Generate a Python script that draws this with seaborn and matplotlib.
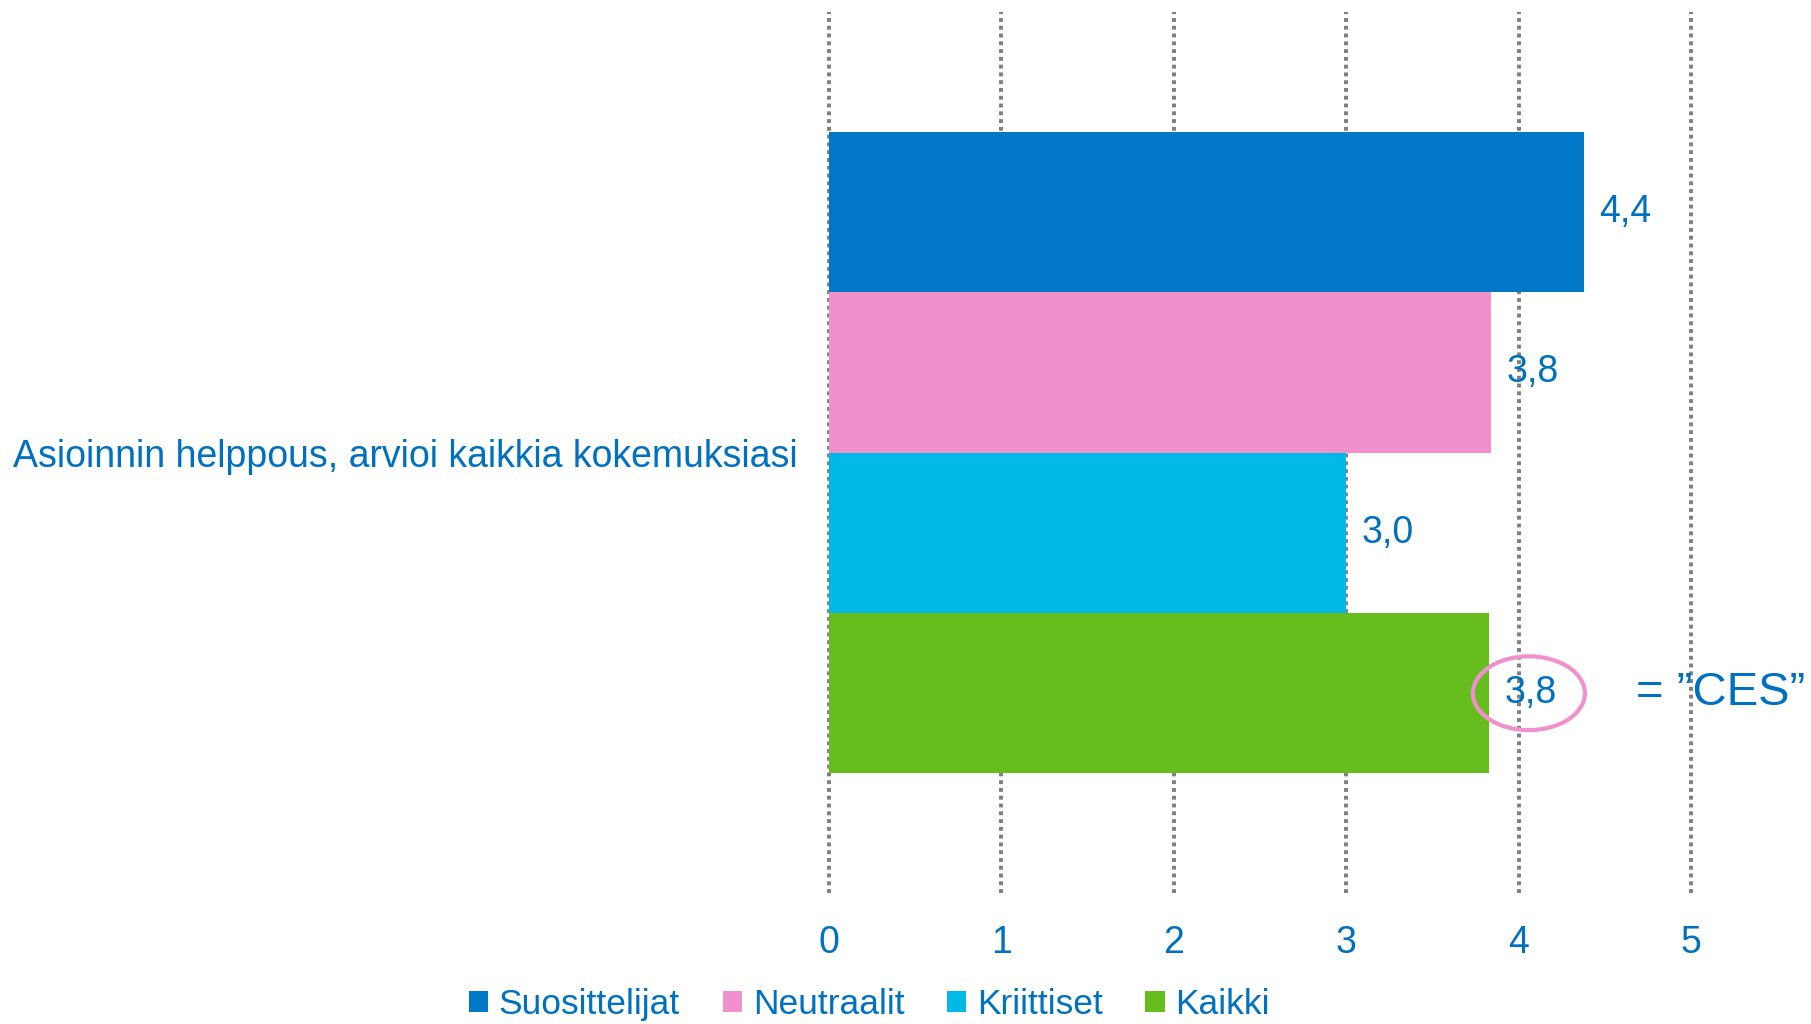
"""Asioinnin helppous (CES) -vaakapylväskuva, seaborn-versio."""

import matplotlib

matplotlib.use("Agg")
import matplotlib.pyplot as plt
import pandas as pd
import seaborn as sns
from matplotlib.patches import Ellipse, Patch

question = "Asioinnin helppous, arvioi kaikkia kokemuksiasi"
groups = ["Suosittelijat", "Neutraalit", "Kriittiset", "Kaikki"]
values = [4.38, 3.84, 3.00, 3.83]
value_labels = ["4,4", "3,8", "3,0", "3,8"]
colors = ["#0078C8", "#F091CE", "#00B9E6", "#66BE1E"]
xticks = [0, 1, 2, 3, 4, 5]
ces_text = "= \u201dCES\u201d"

TEXT = "#0070C0"
GRID = "#7F7F7F"

sns.set_theme(style="white")
plt.rcParams["font.family"] = ["Liberation Sans", "DejaVu Sans"]

df = pd.DataFrame({"question": [question] * len(groups), "group": groups, "value": values})

fig = plt.figure(figsize=(18.11, 10.24), dpi=100)
ax = fig.add_axes([0.4578, 0.128, 0.4759, 0.860])

sns.barplot(
    data=df, x="value", y="question", hue="group", hue_order=groups,
    palette=colors, orient="h", width=0.8, saturation=1, ax=ax, legend=False,
    linewidth=0, zorder=2,
)

ax.set_xlim(0, 5)
ax.set_ylim(0.549, -0.549)
ax.set_xticks(xticks)
ax.set_xticklabels([str(t) for t in xticks])
for t in xticks:
    ax.axvline(t, color=GRID, linestyle=(0, (1, 1)), linewidth=2.8, zorder=1, clip_on=False)
for s in ax.spines.values():
    s.set_visible(False)

ax.set_xlabel("")
ax.set_ylabel("")
ax.tick_params(axis="x", length=0, pad=23, labelsize=27, labelcolor=TEXT)
ax.tick_params(axis="y", length=0, pad=23, labelsize=27, labelcolor=TEXT)
ax.set_yticks([-0.549, 0.549], minor=True)
ax.tick_params(axis="y", which="minor", length=5, width=2.5, color=GRID)

for cont, lab in zip(ax.containers, value_labels):
    ax.bar_label(cont, labels=[lab], padding=11, fontsize=27, color=TEXT)

# CES-korostus viimeisen (Kaikki) pylvään arvon ympärille
last = ax.containers[-1][0]
yc = last.get_y() + last.get_height() / 2
ax.add_patch(Ellipse((4.06, yc), 0.65, 0.092, fill=False, edgecolor="#F091CE",
                     linewidth=3, zorder=4, clip_on=False))
ax.text(4.68, yc, ces_text, fontsize=34, color=TEXT, va="center", ha="left", clip_on=False)

handles = [Patch(facecolor=c, edgecolor="none") for c in colors]
fig.legend(handles, groups, loc="center", bbox_to_anchor=(0.48, 0.019), ncol=4,
           frameon=False, fontsize=25.5, labelcolor=TEXT, handlelength=0.55,
           handleheight=0.55, handletextpad=0.3, columnspacing=1.2)

fig.savefig("out.png", dpi=100)
